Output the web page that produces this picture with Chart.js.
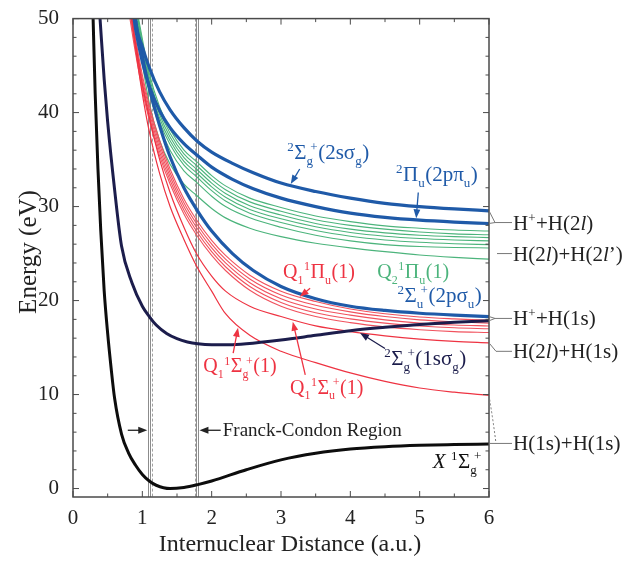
<!DOCTYPE html>
<html>
<head>
<meta charset="utf-8">
<script src="https://cdn.jsdelivr.net/npm/chart.js@4.4.1/dist/chart.umd.min.js"></script>
<style>
  html, body { margin: 0; padding: 0; background: #fff; }
  canvas { display: block; }
</style>
</head>
<body>
<canvas id="pec" width="639" height="561"></canvas>
<script>
// Axis tick labels
const xTickValues = [0, 1, 2, 3, 4, 5, 6];
const yTickValues = [0, 10, 20, 30, 40, 50];

// H2 ground state X 1Σg+  (R in a.u., E in eV)
const groundR = [0.29, 0.32, 0.36, 0.40, 0.45, 0.50, 0.55, 0.60, 0.70, 0.80, 0.90, 1.00, 1.10, 1.20, 1.40, 1.60, 1.80, 2.00, 2.50, 3.00, 3.50, 4.00, 4.50, 5.00, 5.50, 6.00];
const groundE = [50, 42, 34, 27.5, 21, 16.5, 12.8, 9.6, 5.8, 3.8, 2.5, 1.5, 0.8, 0.35, 0, 0.12, 0.42, 0.8, 2.0, 3.05, 3.75, 4.2, 4.45, 4.6, 4.68, 4.74];

// H2+ 2Σg+(1sσg)
const ion1sR = [0.39, 0.45, 0.50, 0.60, 0.70, 0.85, 1.00, 1.10, 1.20, 1.35, 1.50, 1.65, 1.80, 2.00, 2.25, 2.50, 3.00, 3.50, 4.00, 4.50, 5.00, 5.50, 6.00];
const ion1sE = [50, 43.5, 39, 31.8, 25.8, 21.9, 19.4, 18.3, 17.4, 16.5, 15.95, 15.6, 15.4, 15.3, 15.3, 15.4, 15.8, 16.3, 16.8, 17.15, 17.45, 17.68, 17.85];

// H2+ excited states (2sσg, 2pπu, 2pσu) on a shared grid
const ionExcR   = [0.88, 0.90, 1.00, 1.10, 1.25, 1.40, 1.60, 1.80, 2.00, 2.30, 2.60, 3.00, 3.50, 4.00, 4.50, 5.00, 5.50, 6.00];
const ion2sE    = [52, 50, 47, 44.8, 42.2, 40.3, 38.4, 36.9, 35.8, 34.6, 33.6, 32.5, 31.6, 30.9, 30.35, 30.0, 29.75, 29.55];
const ion2pPiE  = [50, 49, 45.4, 42.8, 40.2, 38.4, 36.7, 35.4, 34.2, 32.9, 31.9, 30.9, 30.0, 29.3, 28.85, 28.55, 28.35, 28.2];
const ion2pSigE = [52, 50, 46, 42.6, 38.6, 35.3, 32.0, 29.5, 27.4, 25.0, 23.2, 21.5, 20.2, 19.4, 18.95, 18.65, 18.45, 18.3];

// Q2 doubly excited states (green)
const q2R  = [0.93, 1.10, 1.25, 1.40, 1.60, 1.78, 2.00, 2.20, 2.55, 3.00, 3.50, 4.00, 4.50, 5.00, 5.50, 6.00];
const q2E1 = [50.6, 44.2, 40.6, 38.2, 36.0, 34.8, 33.3, 32.2, 30.9, 29.9, 29.0, 28.4, 27.95, 27.7, 27.5, 27.4];
const q2E2 = [50.3, 43.8, 40.2, 37.8, 35.6, 34.4, 32.9, 31.8, 30.5, 29.5, 28.6, 28.0, 27.6, 27.3, 27.1, 27.0];
const q2E3 = [50.0, 43.4, 39.8, 37.4, 35.2, 34.0, 32.5, 31.4, 30.1, 29.1, 28.2, 27.6, 27.2, 26.95, 26.8, 26.7];
const q2E4 = [49.7, 43.0, 39.4, 37.0, 34.8, 33.6, 32.1, 31.0, 29.7, 28.7, 27.85, 27.25, 26.85, 26.6, 26.45, 26.35];
const q2E5 = [49.4, 42.6, 39.0, 36.6, 34.4, 33.2, 31.7, 30.6, 29.3, 28.3, 27.45, 26.85, 26.45, 26.2, 26.05, 25.95];
const q2E6 = [49.0, 42.2, 38.5, 36.0, 33.8, 32.6, 31.1, 30.0, 28.8, 27.8, 26.95, 26.35, 25.95, 25.75, 25.65, 25.6];
const q2E7 = [48.5, 41.0, 37.0, 34.5, 32.4, 31.2, 29.8, 28.8, 27.7, 26.8, 26.1, 25.6, 25.2, 24.85, 24.6, 24.4];

// Q1 doubly excited states (red)
const q1R   = [0.80, 0.90, 1.00, 1.10, 1.25, 1.40, 1.60, 1.78, 2.00, 2.20, 2.55, 3.00, 3.50, 4.00, 4.50, 5.00, 5.50, 6.00];
const q1E1  = [53, 48, 44, 40.8, 37, 34, 30.8, 28.6, 26.4, 24.8, 22.7, 21.0, 19.9, 19.1, 18.6, 18.25, 18.05, 17.9];
const q1E2  = [52.5, 47.6, 43.6, 40.4, 36.6, 33.6, 30.4, 28.2, 26.0, 24.4, 22.3, 20.6, 19.5, 18.8, 18.3, 17.95, 17.75, 17.6];
const q1E3  = [52, 47.2, 43.2, 40.0, 36.2, 33.2, 30.0, 27.8, 25.6, 24.0, 21.9, 20.2, 19.1, 18.45, 17.95, 17.6, 17.4, 17.3];
const q1E4  = [51.5, 46.8, 42.8, 39.6, 35.8, 32.8, 29.6, 27.4, 25.2, 23.6, 21.5, 19.8, 18.7, 18.05, 17.6, 17.3, 17.1, 17.0];
const q1E5  = [51, 46.4, 42.4, 39.2, 35.4, 32.4, 29.2, 27.0, 24.8, 23.2, 21.1, 19.4, 18.3, 17.65, 17.2, 16.9, 16.7, 16.6];
const q1SuE = [52, 47.5, 43, 39.5, 35, 31.5, 27.8, 25.0, 22.6, 21.0, 19.4, 18.3, 17.3, 16.7, 16.25, 15.9, 15.65, 15.5];
const q1SgE = [53, 47, 42, 38, 33.5, 30, 26.5, 23.7, 21.0, 18.6, 16.3, 14.6, 13.4, 12.3, 11.4, 10.7, 10.25, 9.9];

// Franck-Condon region boundaries (a.u.)
const fcSolid = [1.10, 1.795];
const fcDashed = [1.144, 1.76];

// Dissociation limits shown at the right edge (eV)
const limitE = [28.3, 25.0, 18.1, 14.6, 4.8];

const SERIF = '"Liberation Serif", "Times New Roman", serif';
const C_BLUE = '#1f5aa8';
const C_NAVY = '#1c1d4c';
const C_GREEN = '#4cb47c';
const C_RED = '#ee3342';
const C_REDL = '#f1525e';

const pts = (R, E) => R.map((r, i) => ({ x: r, y: E[i] }));
const line = (R, E, color, width) => ({ data: pts(R, E), borderColor: color, borderWidth: width, fill: false });

const datasets = [
  line(groundR, groundE, '#0d0d0d', 3),
  line(ion1sR, ion1sE, C_NAVY, 3),
  line(ionExcR, ion2sE, C_BLUE, 3.2),
  line(ionExcR, ion2pPiE, C_BLUE, 3.2),
  line(ionExcR, ion2pSigE, C_BLUE, 3.2),
  line(q1R, q1SgE, C_RED, 1.2),
  line(q1R, q1SuE, C_RED, 1.2),
  line(q1R, q1E1, C_REDL, 1.1),
  line(q1R, q1E2, C_REDL, 1.1),
  line(q1R, q1E3, C_REDL, 1.1),
  line(q1R, q1E4, C_REDL, 1.1),
  line(q1R, q1E5, C_REDL, 1.1),
  line(q2R, q2E7, C_GREEN, 1.2),
  line(q2R, q2E6, C_GREEN, 1.1),
  line(q2R, q2E5, C_GREEN, 1.1),
  line(q2R, q2E4, C_GREEN, 1.1),
  line(q2R, q2E3, C_GREEN, 1.1),
  line(q2R, q2E2, C_GREEN, 1.1),
  line(q2R, q2E1, C_GREEN, 1.1)
];

// Text with superscripts / subscripts; a part may carry both a sub and a sup.
function rich(ctx, x, y, parts, size, color) {
  const small = Math.round(size * 0.62);
  let cx = x;
  ctx.fillStyle = color;
  ctx.textAlign = 'left';
  ctx.textBaseline = 'alphabetic';
  for (const p of parts) {
    if (p.t !== undefined) {
      ctx.font = (p.it ? 'italic ' : '') + size + 'px ' + SERIF;
      ctx.fillText(p.t, cx, y);
      cx += ctx.measureText(p.t).width;
    } else {
      ctx.font = small + 'px ' + SERIF;
      let w = 0, shift = 0;
      if (p.sub !== undefined) {
        ctx.fillText(p.sub, cx, y + size * 0.28);
        w = ctx.measureText(p.sub).width;
        shift = p.sup !== undefined ? w * 0.6 : 0;
      }
      if (p.sup !== undefined) {
        ctx.fillText(p.sup, cx + shift, y - size * 0.38);
        w = Math.max(w, shift + ctx.measureText(p.sup).width);
      }
      cx += w + 0.5;
    }
  }
  return cx - x;
}

function arrow(ctx, x1, y1, x2, y2, color) {
  const a = Math.atan2(y2 - y1, x2 - x1);
  const h = 9, hw = 3.4;
  ctx.strokeStyle = color; ctx.fillStyle = color; ctx.lineWidth = 1.3;
  ctx.beginPath();
  ctx.moveTo(x1, y1);
  ctx.lineTo(x2 - Math.cos(a) * h * 0.8, y2 - Math.sin(a) * h * 0.8);
  ctx.stroke();
  ctx.beginPath();
  ctx.moveTo(x2, y2);
  ctx.lineTo(x2 - h * Math.cos(a) + hw * Math.sin(a), y2 - h * Math.sin(a) - hw * Math.cos(a));
  ctx.lineTo(x2 - h * Math.cos(a) - hw * Math.sin(a), y2 - h * Math.sin(a) + hw * Math.cos(a));
  ctx.closePath();
  ctx.fill();
}

function seg(ctx, x1, y1, x2, y2) {
  ctx.beginPath(); ctx.moveTo(x1, y1); ctx.lineTo(x2, y2); ctx.stroke();
}

const decorations = {
  id: 'decorations',
  beforeDatasetsDraw(chart) {
    const { ctx, chartArea: a, scales: { x } } = chart;
    ctx.save();
    ctx.strokeStyle = '#8c8c8c';
    ctx.lineWidth = 1;
    for (const v of fcSolid) {
      const p = Math.round(x.getPixelForValue(v)) + 0.5;
      seg(ctx, p - 1, a.top, p - 1, a.bottom);
      seg(ctx, p + 1, a.top, p + 1, a.bottom);
    }
    ctx.setLineDash([3, 2]);
    ctx.strokeStyle = '#a0a0a0';
    for (const v of fcDashed) {
      const p = Math.round(x.getPixelForValue(v)) + 0.5;
      seg(ctx, p, a.top, p, a.bottom);
    }
    ctx.restore();
  },
  afterDatasetsDraw(chart) {
    const { ctx, chartArea: a, scales: { x, y } } = chart;
    const X = v => x.getPixelForValue(v);
    const Y = v => y.getPixelForValue(v);
    ctx.save();

    // frame and inward ticks
    ctx.strokeStyle = '#4a4a4a';
    ctx.lineWidth = 1.5;
    ctx.strokeRect(a.left, a.top, a.right - a.left, a.bottom - a.top);
    ctx.lineWidth = 1;
    for (let i = 0; i <= 12; i++) {
      const v = i * 0.5, p = X(v), L = i % 2 === 0 ? 6 : 3.5;
      seg(ctx, p, a.bottom, p, a.bottom - L);
      seg(ctx, p, a.top, p, a.top + L);
    }
    for (let v = 0; v <= 50; v += 2) {
      const p = Y(v), L = v % 10 === 0 ? 6 : 3.5;
      seg(ctx, a.left, p, a.left + L, p);
      seg(ctx, a.right, p, a.right - L, p);
    }

    // axis titles
    ctx.fillStyle = '#222';
    ctx.textAlign = 'center';
    ctx.textBaseline = 'middle';
    ctx.font = '24px ' + SERIF;
    ctx.fillText('Internuclear Distance (a.u.)', 290, 545);
    ctx.save();
    ctx.translate(29, 252);
    ctx.rotate(-Math.PI / 2);
    ctx.font = '25px ' + SERIF;
    ctx.fillText('Energy (eV)', 0, 0);
    ctx.restore();

    // state labels
    const S = 21;
    rich(ctx, X(3.09), Y(35.1), [{ sup: '2' }, { t: 'Σ' }, { sub: 'g', sup: '+' }, { t: '(2sσ' }, { sub: 'g' }, { t: ')' }], S, C_BLUE);
    arrow(ctx, X(3.27), Y(34.0), X(3.14), Y(32.4), C_BLUE);

    rich(ctx, X(4.66), Y(32.75), [{ sup: '2' }, { t: 'Π' }, { sub: 'u' }, { t: '(2pπ' }, { sub: 'u' }, { t: ')' }], S, C_BLUE);
    arrow(ctx, X(4.98), Y(31.5), X(4.95), Y(28.75), C_BLUE);

    rich(ctx, X(3.03), Y(22.4), [{ t: 'Q' }, { sub: '1' }, { sup: '1' }, { t: 'Π' }, { sub: 'u' }, { t: '(1)' }], 20, C_RED);
    arrow(ctx, X(3.42), Y(21.3), X(3.27), Y(20.4), C_RED);

    rich(ctx, X(4.39), Y(22.4), [{ t: 'Q' }, { sub: '2' }, { sup: '1' }, { t: 'Π' }, { sub: 'u' }, { t: '(1)' }], 20, C_GREEN);

    rich(ctx, X(4.68), Y(19.8), [{ sup: '2' }, { t: 'Σ' }, { sub: 'u', sup: '+' }, { t: '(2pσ' }, { sub: 'u' }, { t: ')' }], S, C_BLUE);

    rich(ctx, X(4.49), Y(13.1), [{ sup: '2' }, { t: 'Σ' }, { sub: 'g', sup: '+' }, { t: '(1sσ' }, { sub: 'g' }, { t: ')' }], S, C_NAVY);
    arrow(ctx, X(4.5), Y(14.9), X(4.14), Y(16.55), C_NAVY);

    rich(ctx, X(1.88), Y(12.35), [{ t: 'Q' }, { sub: '1' }, { sup: '1' }, { t: 'Σ' }, { sub: 'g', sup: '+' }, { t: '(1)' }], 20, C_RED);
    arrow(ctx, X(2.31), Y(14.4), X(2.38), Y(17.1), C_RED);

    rich(ctx, X(3.13), Y(10.1), [{ t: 'Q' }, { sub: '1' }, { sup: '1' }, { t: 'Σ' }, { sub: 'u', sup: '+' }, { t: '(1)' }], 20, C_RED);
    arrow(ctx, X(3.35), Y(12.1), X(3.17), Y(17.75), C_RED);

    rich(ctx, X(5.19), Y(2.2), [{ t: 'X', it: true }, { t: ' ' }, { sup: '1' }, { t: 'Σ' }, { sub: 'g', sup: '+' }], S, '#111');

    // Franck-Condon region marker
    ctx.fillStyle = '#222';
    ctx.font = '19px ' + SERIF;
    ctx.textAlign = 'left';
    ctx.textBaseline = 'alphabetic';
    ctx.fillText('Franck-Condon Region', X(2.16), Y(5.6));
    arrow(ctx, X(0.79), Y(6.2), X(fcSolid[0]) - 2, Y(6.2), '#222');
    arrow(ctx, X(2.13), Y(6.2), X(fcSolid[1]) + 2, Y(6.2), '#222');

    // dissociation limits
    const RS = 21, lx = a.right + 24;
    ctx.strokeStyle = '#777';
    ctx.lineWidth = 1;
    const yl = limitE.map(Y);
    const last = arr => arr[arr.length - 1];
    // H+ + H(2l)
    seg(ctx, a.right, Y(last(ion2sE)), a.right + 6, yl[0]);
    seg(ctx, a.right, Y(last(ion2pPiE)), a.right + 6, yl[0]);
    seg(ctx, a.right + 6, yl[0], lx - 1, yl[0]);
    // H(2l) + H(2l')
    seg(ctx, a.right + 8, yl[1], lx - 1, yl[1]);
    // H+ + H(1s)
    seg(ctx, a.right, Y(last(ion2pSigE)), a.right + 6, yl[2]);
    seg(ctx, a.right, Y(last(ion1sE)), a.right + 6, yl[2]);
    seg(ctx, a.right + 6, yl[2], lx - 1, yl[2]);
    // H(2l) + H(1s)
    seg(ctx, a.right, Y(last(q1SuE)), a.right + 7, yl[3]);
    seg(ctx, a.right + 7, yl[3], lx - 1, yl[3]);
    // H(1s) + H(1s)
    ctx.setLineDash([2, 2]);
    ctx.beginPath();
    ctx.moveTo(a.right, Y(last(q1SgE)));
    ctx.quadraticCurveTo(a.right + 4, (Y(last(q1SgE)) + yl[4]) / 2, a.right + 7, yl[4]);
    ctx.stroke();
    ctx.setLineDash([]);
    seg(ctx, a.right, yl[4], lx - 1, yl[4]);

    const ty = v => v + 7;
    rich(ctx, lx, ty(yl[0]), [{ t: 'H' }, { sup: '+' }, { t: '+H(2' }, { t: 'l', it: true }, { t: ')' }], RS, '#222');
    rich(ctx, lx, ty(yl[1]), [{ t: 'H(2' }, { t: 'l', it: true }, { t: ')+H(2' }, { t: 'l', it: true }, { t: '’)' }], RS, '#222');
    rich(ctx, lx, ty(yl[2]), [{ t: 'H' }, { sup: '+' }, { t: '+H(1s)' }], RS, '#222');
    rich(ctx, lx, ty(yl[3]), [{ t: 'H(2' }, { t: 'l', it: true }, { t: ')+H(1s)' }], RS, '#222');
    rich(ctx, lx, ty(yl[4]), [{ t: 'H(1s)+H(1s)' }], RS, '#222');

    ctx.restore();
  }
};

new Chart(document.getElementById('pec'), {
  type: 'line',
  data: { datasets },
  options: {
    responsive: false,
    animation: false,
    devicePixelRatio: 1,
    layout: { padding: { left: 0, right: 150, top: 13, bottom: 0 } },
    plugins: { legend: { display: false }, tooltip: { enabled: false } },
    elements: {
      point: { radius: 0 },
      line: { cubicInterpolationMode: 'monotone', borderCapStyle: 'round', borderJoinStyle: 'round' }
    },
    scales: {
      x: {
        type: 'linear', min: 0, max: 6,
        afterFit(s) { s.height = 64; },
        afterBuildTicks(s) { s.ticks = xTickValues.map(v => ({ value: v })); },
        grid: { display: false }, border: { display: false },
        ticks: { padding: 1, color: '#222', autoSkip: false, maxRotation: 0, font: { family: SERIF, size: 21 } }
      },
      y: {
        type: 'linear', min: -0.9, max: 50,
        afterFit(s) { s.width = 73; },
        afterBuildTicks(s) { s.ticks = yTickValues.map(v => ({ value: v })); },
        grid: { display: false }, border: { display: false },
        ticks: { padding: 6, color: '#222', font: { family: SERIF, size: 21 } }
      }
    }
  },
  plugins: [decorations]
});
</script>
</body>
</html>
